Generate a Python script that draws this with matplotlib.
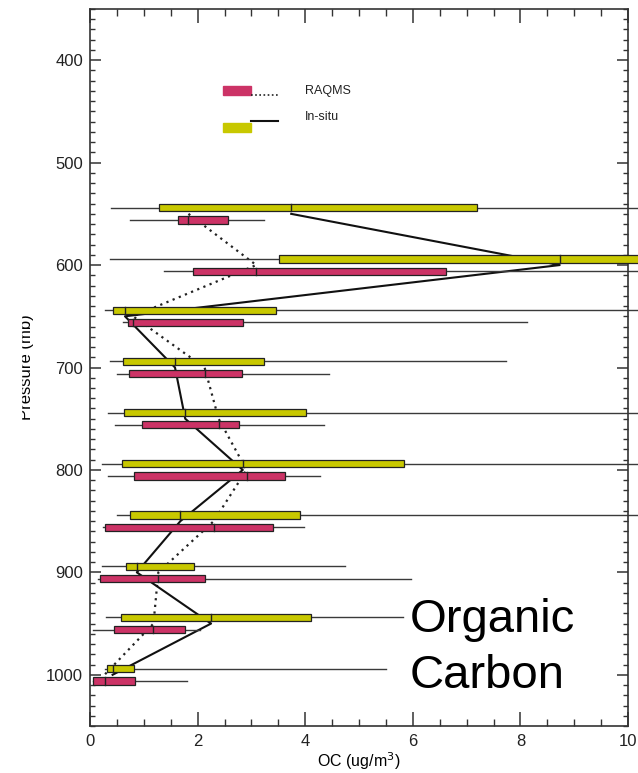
import matplotlib

matplotlib.use("Agg")
import matplotlib.pyplot as plt
from matplotlib.patches import Rectangle
from matplotlib.ticker import MultipleLocator


PRESSURE_BINS = [550, 600, 650, 700, 750, 800, 850, 900, 950, 1000]

# In-situ OC (ug/m3): whisker low, 25th, median, 75th, whisker high
INSITU_LO = [0.39, 0.37, 0.27, 0.37, 0.34, 0.23, 0.50, 0.22, 0.29, 0.28]
INSITU_Q1 = [1.28, 3.52, 0.42, 0.62, 0.64, 0.60, 0.74, 0.67, 0.57, 0.32]
INSITU_MED = [3.74, 8.73, 0.65, 1.58, 1.77, 2.84, 1.68, 0.87, 2.25, 0.42]
INSITU_Q3 = [7.20, 11.0, 3.46, 3.23, 4.02, 5.84, 3.90, 1.93, 4.11, 0.82]
INSITU_HI = [11.0, 11.0, 11.0, 7.73, 11.0, 11.0, 11.0, 4.74, 5.81, 5.51]

# RAQMS OC (ug/m3)
RAQMS_LO = [0.75, 1.37, 0.62, 0.51, 0.47, 0.34, 0.25, 0.15, 0.06, 0.05]
RAQMS_Q1 = [1.63, 1.92, 0.71, 0.73, 0.96, 0.82, 0.27, 0.19, 0.45, 0.06]
RAQMS_MED = [1.83, 3.09, 0.80, 2.13, 2.39, 2.91, 2.30, 1.27, 1.18, 0.27]
RAQMS_Q3 = [2.57, 6.61, 2.85, 2.82, 2.77, 3.62, 3.41, 2.13, 1.77, 0.84]
RAQMS_HI = [3.24, 11.0, 8.13, 4.45, 4.35, 4.27, 3.98, 5.96, 2.05, 1.81]

SERIES_LABELS = ["RAQMS", "In-situ"]
RAQMS_COLOR = "#CC3366"
INSITU_COLOR = "#C8C800"
FONT = ["Liberation Sans", "DejaVu Sans"]

plt.rcParams["font.family"] = FONT


def draw_boxes(axis, lo, q1, med, q3, hi, offset, color):
    box_h = 7.0
    for p, a, b, m, c, d in zip(PRESSURE_BINS, lo, q1, med, q3, hi):
        y = p + offset
        axis.plot([a, d], [y, y], color="#3a3a3a", linewidth=1.0, zorder=2, clip_on=False)
        axis.barh(y, c - b, left=b, height=box_h, color=color, edgecolor="#222222",
                  linewidth=0.9, zorder=3, clip_on=False)
        axis.plot([m, m], [y - box_h / 2, y + box_h / 2], color="#222222", linewidth=1.0,
                  zorder=4, clip_on=False)


def main():
    fig = plt.figure(figsize=(6.38, 7.73), dpi=100)
    ax = fig.add_axes([90 / 638, 47 / 773, 538 / 638, 717 / 773])

    # median profiles at bin centres
    ax.plot(RAQMS_MED, PRESSURE_BINS, color="#222222", linestyle=(0, (1, 2)), linewidth=1.6, zorder=1)
    ax.plot(INSITU_MED, PRESSURE_BINS, color="#111111", linestyle="-", linewidth=1.5, zorder=1)

    draw_boxes(ax, INSITU_LO, INSITU_Q1, INSITU_MED, INSITU_Q3, INSITU_HI, -6, INSITU_COLOR)
    draw_boxes(ax, RAQMS_LO, RAQMS_Q1, RAQMS_MED, RAQMS_Q3, RAQMS_HI, 6, RAQMS_COLOR)

    ax.set_xlim(0, 10)
    ax.set_ylim(1050, 350)
    ax.xaxis.set_major_locator(MultipleLocator(2))
    ax.xaxis.set_minor_locator(MultipleLocator(0.5))
    ax.set_yticks(range(400, 1001, 100))
    ax.yaxis.set_minor_locator(MultipleLocator(10))
    ax.tick_params(axis="both", which="both", direction="in", top=True, right=True,
                   colors="#333333", labelcolor="#222222", labelsize=12)
    ax.tick_params(axis="x", which="major", length=10, width=1.1, pad=6)
    ax.tick_params(axis="x", which="minor", length=5, width=1.0)
    ax.tick_params(axis="y", which="major", length=8, width=1.1, pad=5)
    ax.tick_params(axis="y", which="minor", length=3.5, width=1.0)
    for spine in ax.spines.values():
        spine.set_color("#333333")
        spine.set_linewidth(1.2)

    ax.set_xlabel("OC (ug/m$^3$)", fontsize=11.5, labelpad=1)
    ax.set_ylabel("Pressure (mb)", fontsize=12)
    ax.yaxis.set_label_coords(-0.104, 0.5)

    # legend drawn by hand, IDL style
    tr = ax.transAxes
    ax.add_patch(Rectangle((0.247, 0.880), 0.052, 0.013, transform=tr, color=RAQMS_COLOR, clip_on=False))
    ax.plot([0.299, 0.349], [0.880, 0.880], transform=tr, color="#222222",
            linestyle=(0, (1, 1.5)), linewidth=1.2)
    ax.add_patch(Rectangle((0.247, 0.8285), 0.052, 0.013, transform=tr, color=INSITU_COLOR, clip_on=False))
    ax.plot([0.299, 0.349], [0.8435, 0.8435], transform=tr, color="#111111", linewidth=1.5)
    ax.text(0.40, 0.886, SERIES_LABELS[0], transform=tr, fontsize=9, va="center", color="#222222")
    ax.text(0.40, 0.850, SERIES_LABELS[1], transform=tr, fontsize=9, va="center", color="#222222")

    ax.text(0.595, 0.131, "Organic", transform=tr, fontsize=34, va="baseline", ha="left")
    ax.text(0.595, 0.053, "Carbon", transform=tr, fontsize=34, va="baseline", ha="left")

    # the original image is cropped through the y label
    fig.add_artist(Rectangle((0, 0), 21 / 638, 1, transform=fig.transFigure, color="white", zorder=20))

    fig.savefig("out.png", dpi=100)
    plt.close(fig)


if __name__ == "__main__":
    main()
